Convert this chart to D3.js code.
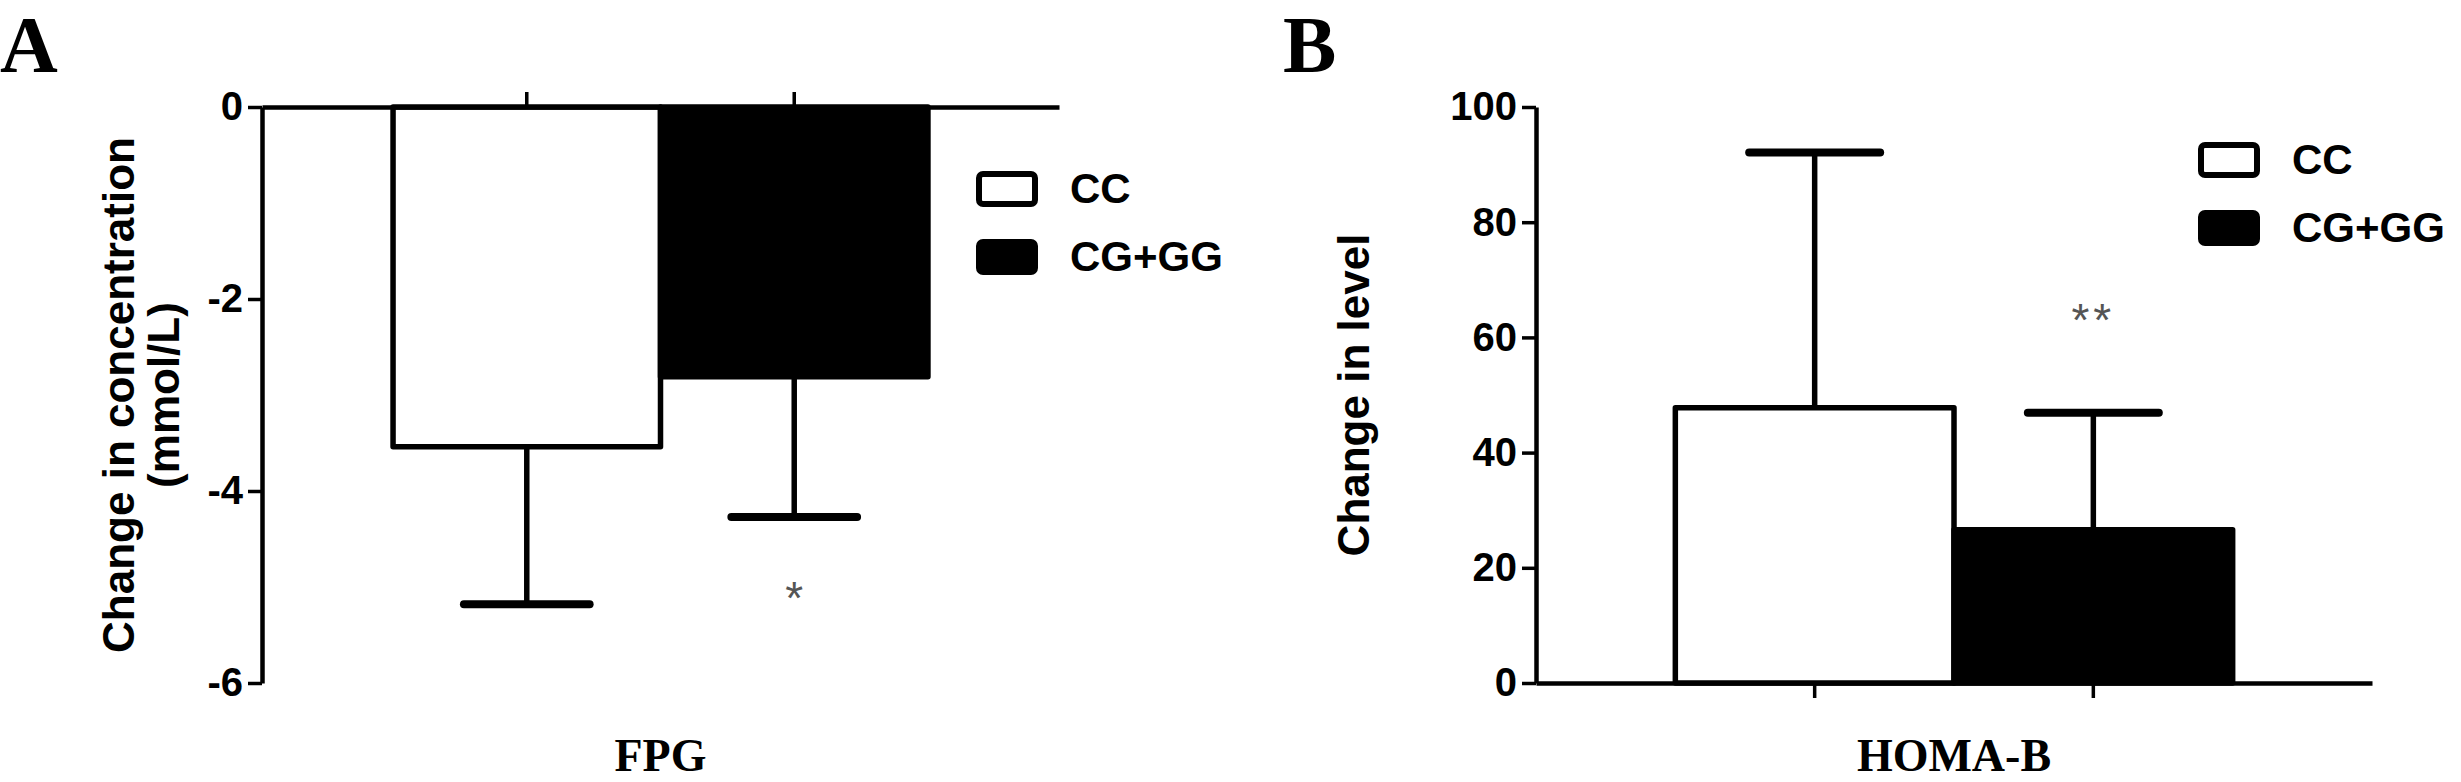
<!DOCTYPE html>
<html>
<head>
<meta charset="utf-8">
<script src="https://cdn.jsdelivr.net/npm/d3@7"></script>
<style>
  html, body { margin: 0; padding: 0; background: #fff; }
  svg { display: block; }
</style>
</head>
<body>
<svg id="chart" width="2461" height="782"></svg>
<script>
// ---------------- data ----------------
const categories = ["CC", "CG+GG"];
const fpgMean = [-3.54, -2.81];
const fpgSD = [1.64, 1.46];
const fpgTicks = [0, -2, -4, -6];
const fpgSig = [null, "*"];
const fpgSigPos = [null, -5.11];

const homaMean = [47.8, 26.6];
const homaSD = [44.3, 20.3];
const homaTicks = [0, 20, 40, 60, 80, 100];
const homaSig = [null, "**"];
const homaSigPos = [null, 63.0];

const fills = ["#ffffff", "#000000"];

// ---------------- drawing ----------------
const svg = d3.select("#chart");
const SANS = "'Liberation Sans', Arial, sans-serif";
const SERIF = "'Liberation Serif', 'Times New Roman', serif";

function panel(opt) {
  const g = svg.append("g");
  const x = d3.scaleBand().domain(categories).range(opt.xRange).paddingInner(0).paddingOuter(opt.pad);
  const y = d3.scaleLinear().domain(opt.yDomain).range([opt.yTop, opt.yBottom]);
  const base = y(0);

  // bars
  g.selectAll("rect.bar").data(categories).enter().append("rect")
    .attr("class", "bar")
    .attr("x", d => x(d))
    .attr("width", x.bandwidth())
    .attr("y", (d, i) => Math.min(y(opt.mean[i]), base))
    .attr("height", (d, i) => Math.abs(y(opt.mean[i]) - base))
    .attr("fill", (d, i) => fills[i])
    .attr("stroke", "#000").attr("stroke-width", 5.5).attr("stroke-linejoin", "round");

  // error bars (one-sided, away from zero)
  const capHalf = x.bandwidth() * 0.235;
  categories.forEach((c, i) => {
    const cx = x(c) + x.bandwidth() / 2;
    const m = opt.mean[i];
    const e = m < 0 ? m - opt.sd[i] : m + opt.sd[i];
    g.append("line").attr("x1", cx).attr("x2", cx).attr("y1", y(m)).attr("y2", y(e))
      .attr("stroke", "#000").attr("stroke-width", 5.5);
    g.append("line").attr("x1", cx - capHalf).attr("x2", cx + capHalf).attr("y1", y(e)).attr("y2", y(e))
      .attr("stroke", "#000").attr("stroke-width", 8).attr("stroke-linecap", "round");
    if (opt.sig[i]) {
      g.append("text").attr("x", cx).attr("y", y(opt.sigPos[i]))
        .attr("text-anchor", "middle")
        .attr("dy", "0.35em")
        .attr("font-family", SANS).attr("font-size", 46).attr("fill", "#555")
        .attr("letter-spacing", opt.sig[i].length > 1 ? 4 : 0)
        .text(opt.sig[i]);
    }
  });

  // x axis (at zero line)
  const xAxis = (opt.xTop ? d3.axisTop(x) : d3.axisBottom(x)).tickSizeOuter(0).tickSizeInner(15).tickFormat("");
  const gx = g.append("g").attr("transform", `translate(0,${base})`).call(xAxis);
  gx.select(".domain").attr("stroke", "#000").attr("stroke-width", 4.5);
  gx.selectAll(".tick line").attr("stroke", "#000").attr("stroke-width", 3.5);

  // y axis
  const yAxis = d3.axisLeft(y).tickValues(opt.ticks).tickSizeOuter(0).tickSizeInner(14).tickPadding(5)
    .tickFormat(d => String(d).replace("\u2212", "-"));
  const gy = g.append("g").attr("transform", `translate(${opt.xRange[0]},0)`).call(yAxis);
  gy.select(".domain").attr("stroke", "#000").attr("stroke-width", 4.5);
  gy.selectAll(".tick line").attr("stroke", "#000").attr("stroke-width", 3.5);
  gy.selectAll(".tick text").attr("font-family", SANS).attr("font-weight", "bold")
    .attr("font-size", 40).attr("fill", "#000");

  // y label
  opt.yLabel.forEach((t, k) => {
    g.append("text")
      .attr("transform", `translate(${opt.yLabelX[k]},${(opt.yTop + opt.yBottom) / 2}) rotate(-90)`)
      .attr("text-anchor", "middle")
      .attr("font-family", SANS).attr("font-weight", "bold").attr("font-size", 44)
      .text(t);
  });

  // x label
  g.append("text").attr("x", x(categories[0]) + x.bandwidth()).attr("y", 771)
    .attr("text-anchor", "middle").attr("font-family", SERIF).attr("font-weight", "bold")
    .attr("font-size", 46).text(opt.xLabel);

  // panel letter
  g.append("text").attr("x", opt.letterX).attr("y", 72)
    .attr("font-family", SERIF).attr("font-weight", "bold").attr("font-size", 80).text(opt.letter);

  // legend
  categories.forEach((c, i) => {
    const ly = opt.legendY + i * 68;
    g.append("rect").attr("x", opt.legendX + 3).attr("y", ly + 3).attr("width", 56).attr("height", 30)
      .attr("rx", 4).attr("fill", fills[i]).attr("stroke", "#000").attr("stroke-width", 6);
    g.append("text").attr("x", opt.legendX + 94).attr("y", ly + 32)
      .attr("font-family", SANS).attr("font-weight", "bold").attr("font-size", 42).text(c);
  });
}

panel({
  xRange: [262, 1059], pad: 0.49, yDomain: [0, -6], yTop: 107, yBottom: 683,
  mean: fpgMean, sd: fpgSD, ticks: fpgTicks, sig: fpgSig, sigPos: fpgSigPos,
  xTop: true, yLabel: ["Change in concentration", "(mmol/L)"], yLabelX: [134, 179],
  xLabel: "FPG", letter: "A", letterX: 0, legendX: 976, legendY: 171
});

panel({
  xRange: [1536, 2372], pad: 0.5, yDomain: [100, 0], yTop: 107, yBottom: 683,
  mean: homaMean, sd: homaSD, ticks: homaTicks, sig: homaSig, sigPos: homaSigPos,
  xTop: false, yLabel: ["Change in level"], yLabelX: [1369],
  xLabel: "HOMA-B", letter: "B", letterX: 1283, legendX: 2198, legendY: 142
});
</script>
</body>
</html>
